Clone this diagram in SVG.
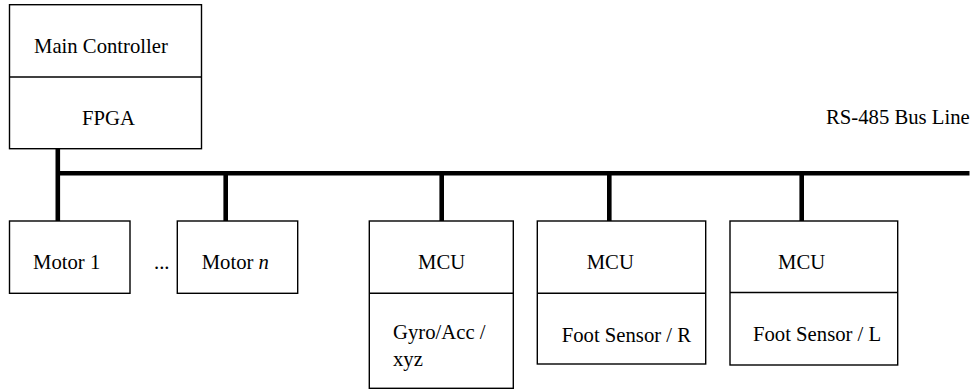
<svg xmlns="http://www.w3.org/2000/svg" width="980" height="389" viewBox="0 0 980 389">
<style>
.box{fill:#fff;stroke:#000;stroke-width:1.4}
.div{stroke:#000;stroke-width:1.4}
.bus{stroke:#000;stroke-width:4.6;fill:none}
text{font-family:"Liberation Serif","Times New Roman",serif;font-size:20.7px;fill:#000}
</style>
<rect width="980" height="389" fill="#fff"/>
<g id="connectors">
<line class="bus" x1="57.8" y1="148.7" x2="57.8" y2="221"/>
<line class="bus" x1="57.8" y1="173.3" x2="969.5" y2="173.3"/>
<line class="bus" x1="225.7" y1="173.3" x2="225.7" y2="221"/>
<line class="bus" x1="441.7" y1="173.3" x2="441.7" y2="221"/>
<line class="bus" x1="609.3" y1="173.3" x2="609.3" y2="221"/>
<line class="bus" x1="801.7" y1="173.3" x2="801.7" y2="221"/>
</g>
<g id="main-controller">
<rect class="box" x="9.5" y="4.7" width="192" height="144"/>
<line class="div" x1="9.5" y1="77" x2="201.5" y2="77"/>
<text x="34" y="53">Main Controller</text>
<text x="82" y="125">FPGA</text>
</g>
<g id="bus-label">
<text x="826" y="123.5">RS-485 Bus Line</text>
</g>
<g id="motor1">
<rect class="box" x="9.5" y="221" width="120.5" height="72.3"/>
<text x="33" y="269">Motor 1</text>
</g>
<g id="ellipsis">
<text x="154" y="269">...</text>
</g>
<g id="motorn">
<rect class="box" x="177.3" y="221" width="120.4" height="72.3"/>
<text x="201.7" y="269">Motor <tspan font-style="italic">n</tspan></text>
</g>
<g id="mcu-gyro">
<rect class="box" x="369.3" y="221" width="144" height="167.3"/>
<line class="div" x1="369.3" y1="293.3" x2="513.3" y2="293.3"/>
<text x="418" y="269">MCU</text>
<text x="393" y="339">Gyro/Acc /</text>
<text x="393" y="366">xyz</text>
</g>
<g id="mcu-foot-r">
<rect class="box" x="537.3" y="221" width="168.4" height="143"/>
<line class="div" x1="537.3" y1="293.3" x2="705.7" y2="293.3"/>
<text x="586.7" y="269">MCU</text>
<text x="561.7" y="341.5">Foot Sensor / R</text>
</g>
<g id="mcu-foot-l">
<rect class="box" x="730" y="221" width="167.7" height="144"/>
<line class="div" x1="730" y1="292.5" x2="897.7" y2="292.5"/>
<text x="778" y="268.5">MCU</text>
<text x="753" y="340.5">Foot Sensor / L</text>
</g>
</svg>
